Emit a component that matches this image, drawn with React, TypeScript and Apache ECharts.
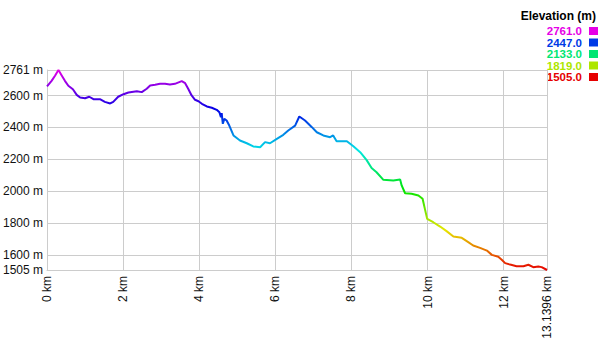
import React, { useEffect, useRef } from "react";
import * as echarts from "echarts";

// distance (km) and elevation (m)
const distanceKm = [
  0.0, 0.12, 0.21, 0.3, 0.39, 0.47, 0.56, 0.68, 0.78, 0.87, 1.0, 1.11, 1.22, 1.39, 1.52, 1.66, 1.74, 1.87,
  2.01, 2.14, 2.36, 2.49, 2.62, 2.71, 2.84, 2.97, 3.1, 3.23, 3.36, 3.54, 3.63, 3.71, 3.8, 3.89, 3.98,
  4.07, 4.2, 4.33, 4.46, 4.53, 4.57, 4.59, 4.62, 4.66, 4.72, 4.79, 4.9, 5.07, 5.25, 5.42, 5.6, 5.73,
  5.86, 6.04, 6.21, 6.34, 6.52, 6.63, 6.78, 6.96, 7.09, 7.26, 7.44, 7.52, 7.61, 7.88, 8.05, 8.23, 8.4,
  8.53, 8.66, 8.84, 9.1, 9.28, 9.32, 9.41, 9.58, 9.76, 9.87, 9.93, 9.99, 10.15, 10.33, 10.5, 10.68,
  10.9, 11.07, 11.2, 11.38, 11.56, 11.69, 11.86, 11.95, 12.04, 12.17, 12.34, 12.52, 12.65, 12.78,
  12.91, 13.0, 13.1396,
];
const elevationM = [
  2658, 2693, 2725, 2761, 2725, 2693, 2662, 2640, 2605, 2588, 2584, 2593, 2578, 2578, 2561, 2551, 2561, 2593,
  2609, 2620, 2628, 2622, 2643, 2664, 2668, 2674, 2674, 2670, 2674, 2691, 2678, 2643, 2601, 2574, 2565,
  2549, 2532, 2524, 2511, 2496, 2465, 2490, 2423, 2454, 2444, 2412, 2350, 2318, 2301, 2281, 2276, 2308,
  2301, 2329, 2354, 2381, 2412, 2469, 2444, 2402, 2370, 2350, 2339, 2350, 2314, 2314, 2282, 2245, 2195,
  2145, 2119, 2071, 2067, 2073, 2036, 1987, 1984, 1973, 1952, 1889, 1826, 1805, 1778, 1749, 1715,
  1707, 1680, 1659, 1644, 1627, 1600, 1588, 1569, 1548, 1539, 1529, 1529, 1538, 1523,
  1527, 1523, 1505,
];

const xTicks = [0, 2, 4, 6, 8, 10, 12, 13.1396];
const yTicks = [1505, 1600, 1800, 2000, 2200, 2400, 2600, 2761];
const legendTitle = "Elevation (m)";
const legendValues = [2761.0, 2447.0, 2133.0, 1819.0, 1505.0];
// hue ramp from low (red) to high (magenta)
const palette = [
  "#e60000", "#e67300", "#e6e600", "#73e600", "#00e600", "#00e673",
  "#00e6e6", "#0073e6", "#0000e6", "#7300e6", "#e600e6",
];

const minE = 1505;
const maxE = 2761;

export default function App() {
  const ref = useRef<HTMLDivElement>(null);
  useEffect(() => {
    document.body.style.margin = "0";
    if (!ref.current) return;
    const chart = echarts.init(ref.current, null, { renderer: "svg" });
    const data = distanceKm.map((d, i) => [d, elevationM[i]]);
    const font = "'Liberation Sans', Arial, sans-serif";
    const graphics: any[] = [
      {
        type: "text",
        right: 5,
        top: 10,
        style: { text: legendTitle, font: `bold 12px ${font}`, fill: "#000" },
      },
    ];
    legendValues.forEach((v, i) => {
      const color = echarts.color.lerp((v - minE) / (maxE - minE), palette);
      const cy = 31 + i * 11.5;
      graphics.push({
        type: "text",
        x: 582,
        y: cy,
        style: {
          text: v.toFixed(1),
          font: `bold 11.5px ${font}`,
          lineHeight: 11,
          fill: color,
          align: "right",
          verticalAlign: "middle",
        },
      });
      graphics.push({
        type: "rect",
        shape: { x: 589, y: cy - 4, width: 9, height: 8 },
        style: { fill: color },
      });
    });
    chart.setOption({
      animation: false,
      grid: { left: 47, right: 54, top: 70, bottom: 75, containLabel: false },
      graphic: graphics,
      visualMap: {
        show: false,
        type: "continuous",
        dimension: 1,
        min: minE,
        max: maxE,
        inRange: { color: palette },
      },
      xAxis: {
        type: "value",
        min: 0,
        max: 13.1396,
        axisLine: { show: true, lineStyle: { color: "#ccc", width: 1 } },
        axisTick: { show: false, customValues: xTicks },
        splitLine: { show: true, lineStyle: { color: "#ccc", width: 1 } },
        axisLabel: {
          customValues: xTicks,
          rotate: 90,
          margin: 6,
          color: "#111",
          fontSize: 12,
          fontFamily: font,
          formatter: (v: number) => `${v} km`,
        },
      },
      yAxis: {
        type: "value",
        min: minE,
        max: maxE,
        axisLine: { show: true, lineStyle: { color: "#ccc", width: 1 } },
        axisTick: { show: false, customValues: yTicks },
        splitLine: { show: true, lineStyle: { color: "#ccc", width: 1 } },
        axisLabel: {
          customValues: yTicks,
          margin: 4,
          color: "#111",
          fontSize: 12,
          fontFamily: font,
          formatter: (v: number) => `${v} m`,
        },
      },
      series: [
        {
          type: "line",
          data,
          showSymbol: false,
          symbol: "none",
          lineStyle: { width: 2 },
        },
      ],
    });
    return () => chart.dispose();
  }, []);
  return <div ref={ref} style={{ width: 601, height: 345 }} />;
}
